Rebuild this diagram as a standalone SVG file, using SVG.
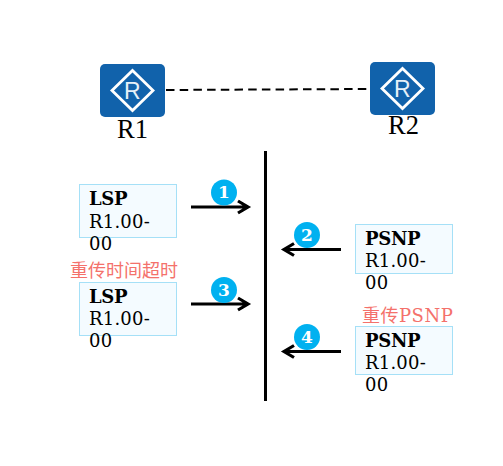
<svg xmlns="http://www.w3.org/2000/svg" width="503" height="466" viewBox="0 0 503 466">
<style>
text{font-family:"DejaVu Serif","Noto Sans CJK SC",serif;fill:#000}
.lbl{font-size:26.500px;font-family:"Liberation Serif",serif}
.b{font-size:18px;font-weight:bold;letter-spacing:-.3px}
.t{font-size:18px;letter-spacing:.2px}
.red{font-size:18px;fill:#f4716b}
.box{fill:#f4fbff;stroke:#a5e0f7;stroke-width:1}
.rt{fill:#1162ab}
.dia{fill:none;stroke:#fff;stroke-width:2.800}
.rr{font-family:"Liberation Sans",sans-serif;font-size:23px;fill:#e6f0f8}
.arr{fill:none;stroke:#000;stroke-width:3.200}
.c{fill:#00b1f0}
.n{font-size:17px;font-weight:bold;fill:#fff;text-anchor:middle}
</style>
<g id="connectors">
<path d="M166 90 L368 89" fill="none" stroke="#000" stroke-width="2" stroke-dasharray="8.500 5.200"/>
<path d="M265.500 151 V401" fill="none" stroke="#000" stroke-width="3"/>
<path class="arr" d="M191 207 H248 M238 201 L248 207 L238 213"/>
<path class="arr" d="M191 304 H248 M238 298 L248 304 L238 310"/>
<path class="arr" d="M341 249.500 H284 M294 243.500 L284 249.500 L294 255.500"/>
<path class="arr" d="M341 351.500 H284 M294 345.500 L284 351.500 L294 357.500"/>
</g>
<g id="R1">
<rect class="rt" x="100" y="64" width="65" height="53" rx="5"/>
<path class="dia" d="M132.500 70.500 L153 90.500 L132.500 110.500 L112 90.500Z"/>
<text class="rr" x="124" y="99">R</text>
<text class="lbl" x="117" y="137.500">R1</text>
</g>
<g id="R2">
<rect class="rt" x="370" y="62" width="65" height="53" rx="5"/>
<path class="dia" d="M402.500 68.500 L423 88.500 L402.500 108.500 L382 88.500Z"/>
<text class="rr" x="394" y="97">R</text>
<text class="lbl" x="388" y="134">R2</text>
</g>
<g id="lsp1">
<rect class="box" x="79.500" y="184.500" width="97" height="53"/>
<text class="b" x="89" y="205">LSP</text>
<text class="t" x="89" y="228">R1.00-</text>
<text class="t" x="89" y="250">00</text>
</g>
<g id="lsp2">
<rect class="box" x="79.500" y="282.500" width="97" height="53"/>
<text class="b" x="89" y="303">LSP</text>
<text class="t" x="89" y="325">R1.00-</text>
<text class="t" x="89" y="347">00</text>
</g>
<g id="psnp1">
<rect class="box" x="355.500" y="224.500" width="97" height="49"/>
<text class="b" x="365" y="245">PSNP</text>
<text class="t" x="365" y="267">R1.00-</text>
<text class="t" x="365" y="289">00</text>
</g>
<g id="psnp2">
<rect class="box" x="355.500" y="326.500" width="97" height="48"/>
<text class="b" x="365" y="347">PSNP</text>
<text class="t" x="365" y="369">R1.00-</text>
<text class="t" x="365" y="391">00</text>
</g>
<g id="note1"><text class="red" x="70" y="277">重传时间超时</text></g>
<g id="note2"><text class="red" x="362" y="322" letter-spacing=".5">重传PSNP</text></g>
<g id="step1"><circle class="c" cx="224" cy="192.500" r="13"/><text class="n" x="224" y="198">1</text></g>
<g id="step3"><circle class="c" cx="224" cy="290" r="13"/><text class="n" x="224" y="296">3</text></g>
<g id="step2"><circle class="c" cx="307" cy="235" r="13"/><text class="n" x="307" y="241">2</text></g>
<g id="step4"><circle class="c" cx="307" cy="337" r="13"/><text class="n" x="307" y="343">4</text></g>
</svg>
